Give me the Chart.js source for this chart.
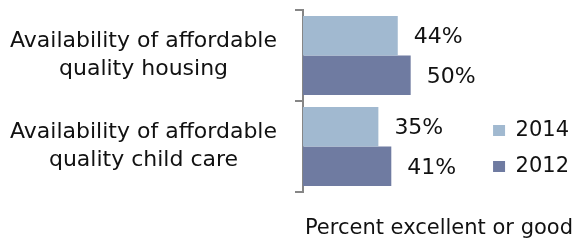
<!DOCTYPE html>
<html>
<head>
<meta charset="utf-8">
<script src="https://cdn.jsdelivr.net/npm/chart.js@4/dist/chart.umd.min.js"></script>
<style>
  html, body { margin: 0; padding: 0; background: #fff; }
  #wrap { width: 575px; height: 244px; position: relative; }
</style>
</head>
<body>
<div id="wrap"><canvas id="chart"></canvas></div>
<script>
// Dữ liệu
const categories = [
  ['Availability of affordable', 'quality housing'],
  ['Availability of affordable', 'quality child care']
];
const years = ['2014', '2012'];
const values2014 = [44, 35];
const values2012 = [50, 41];
const axisTitle = 'Percent excellent or good';

const FONT = '"DejaVu Sans", sans-serif';
const TEXT = '#111111';
const AXIS = '#868686';

// Nhãn % ở cuối mỗi thanh
const barLabels = {
  id: 'barLabels',
  afterDatasetsDraw(chart) {
    const ctx = chart.ctx;
    ctx.save();
    ctx.font = '22px ' + FONT;
    ctx.fillStyle = TEXT;
    ctx.textAlign = 'left';
    ctx.textBaseline = 'middle';
    chart.data.datasets.forEach((ds, i) => {
      chart.getDatasetMeta(i).data.forEach((bar, j) => {
        ctx.fillText(ds.data[j] + '%', bar.x + 16, bar.y + 2);
      });
    });
    ctx.restore();
  }
};

// Đẩy chú giải sang phải một chút (khoảng trống 10px cố định của Chart.js)
const legendNudge = {
  id: 'legendNudge',
  afterLayout(chart) {
    chart.legend.left += 6;
    chart.legend.right += 6;
  }
};

const chart = new Chart(document.getElementById('chart'), {
  type: 'bar',
  data: {
    labels: categories,
    datasets: [
      { label: years[0], data: values2014, backgroundColor: '#a1b9d0' },
      { label: years[1], data: values2012, backgroundColor: '#6f7ba1' }
    ]
  },
  options: {
    indexAxis: 'y',
    responsive: true,
    maintainAspectRatio: false,
    animation: false,
    layout: { padding: { top: 10, left: 8, right: 2, bottom: 0 } },
    datasets: { bar: { categoryPercentage: 0.87, barPercentage: 1.0 } },
    scales: {
      x: { display: false, min: 0, max: 78.5 },
      y: {
        position: 'left',
        grid: { drawOnChartArea: false, drawTicks: true, tickLength: 8, color: AXIS, lineWidth: 2 },
        border: { display: true, color: AXIS, width: 2 },
        ticks: {
          crossAlign: 'center',
          padding: 18,
          color: TEXT,
          font: { family: FONT, size: 22, lineHeight: 1.27 }
        },
        // trục rộng đủ cho nhãn, bỏ khoảng đệm trên/dưới của nhãn hai dòng
        afterFit: (scale) => {
          scale.width = 295;
          scale.paddingTop = 0;
          scale.paddingBottom = 0;
        }
      }
    },
    plugins: {
      legend: {
        display: true,
        position: 'right',
        align: 'end',
        fullSize: false,
        labels: {
          boxWidth: 12,
          boxHeight: 11,
          padding: 15,
          color: TEXT,
          font: { family: FONT, size: 21 }
        }
      },
      title: {
        display: true,
        text: axisTitle,
        position: 'bottom',
        align: 'end',
        color: TEXT,
        font: { family: FONT, size: 21, weight: 'normal' },
        padding: { top: 24.4, bottom: 2.4 }
      },
      tooltip: { enabled: false }
    }
  },
  plugins: [barLabels, legendNudge]
});
</script>
</body>
</html>
